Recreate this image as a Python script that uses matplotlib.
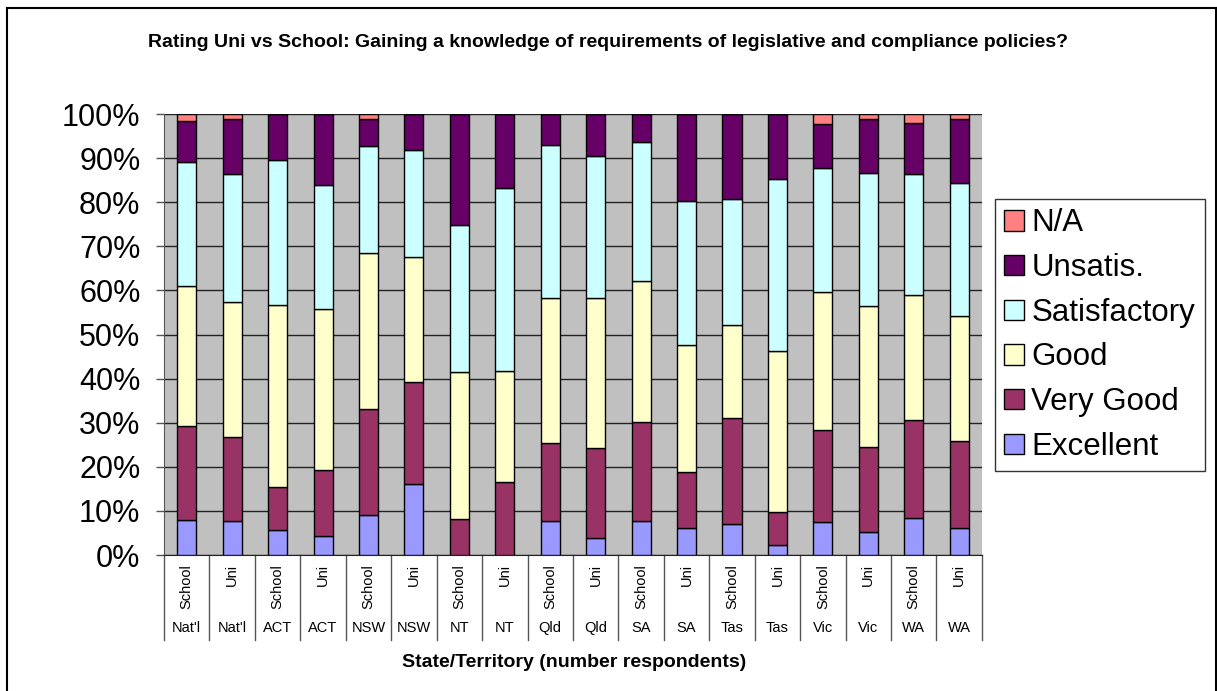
import matplotlib.pyplot as plt
import numpy as np
from matplotlib.lines import Line2D
from matplotlib.transforms import blended_transform_factory

plt.rcParams["font.family"] = ["Liberation Sans", "DejaVu Sans"]

# Data (percent of respondents)
groups = ["Nat'l", "Nat'l", "ACT", "ACT", "NSW", "NSW", "NT", "NT", "Qld",
          "Qld", "SA", "SA", "Tas", "Tas", "Vic", "Vic", "WA", "WA"]
kinds = ["School", "Uni"] * 9

excellent = [7.9, 7.7, 5.6, 4.4, 9.1, 16.1, 0.0, 0.0, 7.7,
             3.8, 7.7, 6.2, 7.1, 2.3, 7.5, 5.3, 8.5, 6.1]
very_good = [21.3, 19.1, 9.8, 14.9, 24.0, 23.2, 8.2, 16.6, 17.6,
             20.4, 22.4, 12.6, 23.9, 7.4, 20.8, 19.2, 22.1, 19.8]
good = [31.9, 30.7, 41.2, 36.4, 35.5, 28.4, 33.2, 25.1, 32.9,
        34.0, 32.0, 28.9, 21.2, 36.5, 31.3, 31.9, 28.4, 28.4]
satisfactory = [28.1, 29.0, 33.1, 28.3, 24.1, 24.1, 33.4, 41.5, 34.8,
                32.2, 31.5, 32.7, 28.6, 39.0, 28.1, 30.3, 27.5, 30.0]
unsatis = [9.3, 12.3, 10.3, 16.0, 6.3, 8.2, 25.2, 16.8, 7.0,
           9.6, 6.4, 19.6, 19.2, 14.8, 10.1, 12.3, 11.6, 14.6]
na = [1.5, 1.2, 0.0, 0.0, 1.0, 0.0, 0.0, 0.0, 0.0,
      0.0, 0.0, 0.0, 0.0, 0.0, 2.2, 1.0, 1.9, 1.1]

series = [
    ("Excellent", excellent, "#9999FF"),
    ("Very Good", very_good, "#993366"),
    ("Good", good, "#FFFFCC"),
    ("Satisfactory", satisfactory, "#CCFFFF"),
    ("Unsatis.", unsatis, "#660066"),
    ("N/A", na, "#FF8080"),
]

fig = plt.figure(figsize=(12.17, 6.91), dpi=100)
ax = fig.add_axes([0.1348, 0.1968, 0.672, 0.638])
ax.set_facecolor("#C0C0C0")

x = np.arange(len(groups))
bottom = np.zeros(len(groups))
handles = []
for name, vals, col in series:
    vals = np.array(vals)
    b = ax.bar(x, vals, 0.42, bottom=bottom, color=col, edgecolor="black",
               linewidth=1.0, label=name, zorder=3)
    bottom += vals
    handles.append(b)

ax.set_xlim(-0.5, len(groups) - 0.5)
ax.set_ylim(0, 100)
ax.set_yticks(np.arange(0, 101, 10))
ax.set_yticklabels([f"{v}%" for v in range(0, 101, 10)], fontsize=22)
ax.yaxis.grid(True, color="#222222", linewidth=1.0, zorder=1)
ax.tick_params(axis="y", length=6, width=1, color="#555555", pad=11)
ax.set_xticks([])
for s in ["top", "right"]:
    ax.spines[s].set_visible(False)
ax.spines["left"].set_color("#555555")
ax.spines["bottom"].set_color("#222222")

# category labels and separators below the axis
trans = blended_transform_factory(ax.transData, ax.transAxes)
for i in x:
    ax.text(i, -0.02, kinds[i], rotation=90, ha="center", va="top",
            fontsize=10.5, transform=trans)
    ax.text(i, -0.165, groups[i], ha="center", va="center",
            fontsize=10.5, transform=trans)
for i in range(len(groups) + 1):
    ax.add_line(Line2D([i - 0.5, i - 0.5], [0, -0.193], transform=trans,
                       color="#555555", linewidth=1.0, clip_on=False))

fig.text(0.5, 0.939, "Rating Uni vs School: Gaining a knowledge of requirements "
         "of legislative and compliance policies?", ha="center", va="center",
         fontsize=14, fontweight="bold")
fig.text(0.472, 0.041, "State/Territory (number respondents)", ha="center",
         va="center", fontsize=14, fontweight="bold")

leg = fig.legend(handles[::-1], [s[0] for s in series][::-1],
                 loc="upper left", bbox_to_anchor=(0.8175, 0.712),
                 fontsize=22.5, frameon=True, fancybox=False, edgecolor="black",
                 handlelength=0.62, handleheight=0.62, handletextpad=0.25,
                 labelspacing=0.47, borderpad=0.3, borderaxespad=0)
leg.get_frame().set_linewidth(1.0)

# outer chart border
fig.add_artist(Line2D([7 / 1217, 7 / 1217], [0, 1 - 8 / 691], color="black",
                      linewidth=1.5, transform=fig.transFigure))
fig.add_artist(Line2D([7 / 1217, 1215.5 / 1217], [1 - 8 / 691, 1 - 8 / 691],
                      color="black", linewidth=1.5, transform=fig.transFigure))
fig.add_artist(Line2D([1215.5 / 1217, 1215.5 / 1217], [0, 1 - 8 / 691],
                      color="black", linewidth=1.5, transform=fig.transFigure))

fig.savefig("out.png", dpi=100)
